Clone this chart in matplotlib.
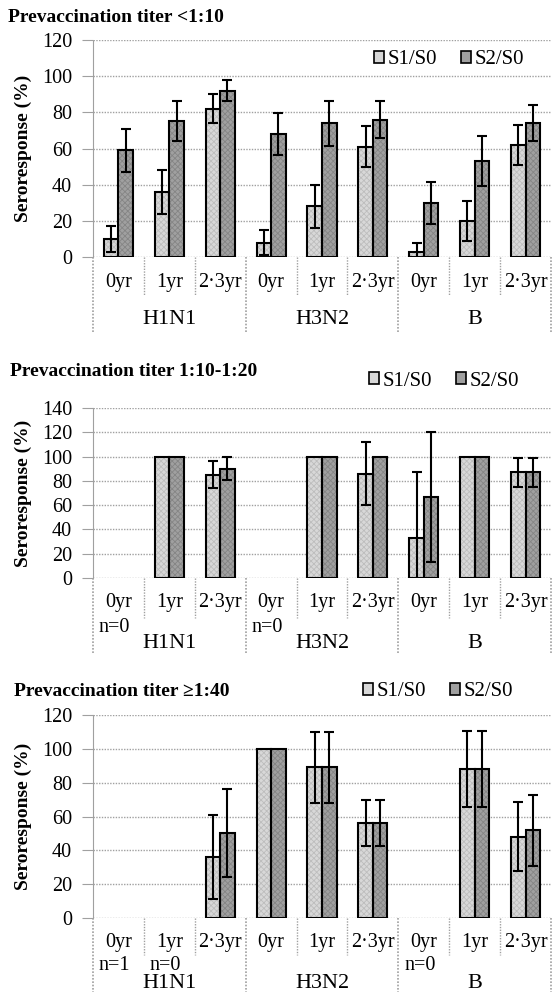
import numpy as np
import matplotlib
matplotlib.use("Agg")
import matplotlib.pyplot as plt
from matplotlib.patches import Patch
from matplotlib.transforms import blended_transform_factory

# Categories and groups
categories = ["0yr", "1yr", "2·3yr"] * 3
groups = ["H1N1", "H3N2", "B"]
series = ["S1/S0", "S2/S0"]
titles = [
    "Prevaccination titer <1:10",
    "Prevaccination titer 1:10-1:20",
    "Prevaccination titer \u22651:40",
]

nan = np.nan

# Prevaccination titer <1:10
low_s1 = [10, 36, 82, 8, 28, 61, 3, 20, 62]
low_s1_err = [7, 12, 8, 7, 12, 11.5, 5, 11, 11]
low_s2 = [59, 75, 92, 68, 74, 76, 30, 53, 74]
low_s2_err = [12, 11, 6, 11.5, 12.5, 10, 11.5, 14, 10]

# Prevaccination titer 1:10-1:20
mid_s1 = [nan, 100, 85, nan, 100, 86, 33, 100, 87]
mid_s1_err = [nan, nan, 11, nan, nan, 26, 54, nan, 12]
mid_s2 = [nan, 100, 90, nan, 100, 100, 67, 100, 87]
mid_s2_err = [nan, nan, 9.5, nan, nan, nan, 53.5, nan, 12]

# Prevaccination titer >=1:40
high_s1 = [nan, nan, 36, 100, 89, 56, nan, 88, 48]
high_s1_err = [nan, nan, 25, nan, 21, 13.5, nan, 22.5, 20.5]
high_s2 = [nan, nan, 50, 100, 89, 56, nan, 88, 52]
high_s2_err = [nan, nan, 26, nan, 21, 13.5, nan, 22.5, 21]

low_notes = {}
mid_notes = {0: "n=0", 3: "n=0"}
high_notes = {0: "n=1", 1: "n=0", 6: "n=0"}

W, H = 552, 992
SERIF = "Liberation Serif"
S1_FACE, S1_HATCH = "#d8d8d8", "#bdbdbd"
S2_FACE, S2_HATCH = "#a0a0a0", "#858585"
GRID = "#a0a0a0"

plt.rcParams["hatch.linewidth"] = 0.6

# pixel layout per panel
panels = [
    dict(data=(low_s1, low_s1_err, low_s2, low_s2_err), notes=low_notes,
         top=40, bottom=257, ymax=120, title=(8, 17), legend=(374, 60),
         cat_y=283, minor_end=295, note_y=None, group_y=320, major_end=333),
    dict(data=(mid_s1, mid_s1_err, mid_s2, mid_s2_err), notes=mid_notes,
         top=408, bottom=578, ymax=140, title=(10, 372), legend=(369, 381),
         cat_y=602, minor_end=618, note_y=628, group_y=643, major_end=653),
    dict(data=(high_s1, high_s1_err, high_s2, high_s2_err), notes=high_notes,
         top=715, bottom=918, ymax=120, title=(14, 691), legend=(363, 692),
         cat_y=943, minor_end=955, note_y=965, group_y=983, major_end=992),
]


def fy(px):
    return 1 - px / H


def draw_series(ax, x, vals, errs, face, hatch_color):
    ax.bar(x, vals, width=bar_w, color=face, edgecolor=hatch_color,
           hatch="xxxxxx", linewidth=0, zorder=2)
    ax.bar(x, vals, width=bar_w, fill=False, edgecolor="black",
           linewidth=1.5, zorder=3)
    ax.errorbar(x, vals, yerr=errs, fmt="none", ecolor="black",
                elinewidth=1.5, capsize=3.8, capthick=1.5, zorder=4)


fig = plt.figure(figsize=(W / 100, H / 100), dpi=100)
x = np.arange(len(categories))
bar_w = 0.285
left_px, right_px = 93, 551

for i, p in enumerate(panels):
    ax = fig.add_axes([left_px / W, fy(p["bottom"]),
                       (right_px - left_px) / W, (p["bottom"] - p["top"]) / H])
    s1, s1_err, s2, s2_err = p["data"]
    draw_series(ax, x - bar_w / 2, s1, s1_err, S1_FACE, S1_HATCH)
    draw_series(ax, x + bar_w / 2, s2, s2_err, S2_FACE, S2_HATCH)

    ax.set_xlim(-0.5, len(categories) - 0.5)
    ax.set_ylim(0, p["ymax"])
    ax.set_yticks(np.arange(0, p["ymax"] + 1, 20))
    ax.set_xticks([])
    ax.grid(axis="y", color=GRID, linestyle=(0, (1, 1)), linewidth=1)
    ax.set_axisbelow(True)
    for side in ["top", "right", "bottom"]:
        ax.spines[side].set_visible(False)
    ax.spines["left"].set_color(GRID)
    ax.spines["left"].set_linestyle((0, (1, 1)))
    ax.tick_params(axis="y", length=8, width=0.8, color=GRID, pad=7,
                   labelsize=14.5)
    for lab in ax.get_yticklabels():
        lab.set_fontfamily(SERIF)

    # category axis below the plot
    tr = blended_transform_factory(ax.transData, fig.transFigure)
    for b in np.arange(-0.5, len(categories), 1.0):
        major = (round(b + 0.5) % 3 == 0)
        end = p["major_end"] if major else p["minor_end"]
        ax.plot([b, b], [fy(p["bottom"]), fy(end)], transform=tr,
                color=GRID, linestyle=(0, (1, 1)), linewidth=1.2 if major else 1,
                clip_on=False)
    for j, c in enumerate(categories):
        ax.text(j, fy(p["cat_y"]), c, transform=tr, ha="center", va="center",
                fontsize=14.5, family=SERIF)
    for j, note in p["notes"].items():
        ax.text(j - 0.08, fy(p["note_y"]), note, transform=tr, ha="center",
                va="center", fontsize=14.5, family=SERIF)
    for g, name in enumerate(groups):
        ax.text(3 * g + 1, fy(p["group_y"]), name, transform=tr, ha="center",
                va="center", fontsize=16, family=SERIF)

    # title, y label, legend
    fig.text(p["title"][0] / W, fy(p["title"][1]), titles[i], ha="left",
             va="center", fontsize=14, family=SERIF, weight="bold")
    fig.text(23 / W, fy((p["top"] + p["bottom"]) / 2), "Seroresponse (%)",
             rotation=90, ha="center", va="center", fontsize=14, family=SERIF,
             weight="bold")
    handles = [
        Patch(facecolor=S1_FACE, edgecolor="black", linewidth=1.2),
        Patch(facecolor=S2_FACE, edgecolor="black", linewidth=1.2),
    ]
    fig.legend(handles, series, loc="center left",
               bbox_to_anchor=(p["legend"][0] / W, fy(p["legend"][1])),
               ncol=2, frameon=False, borderpad=0, borderaxespad=0,
               handlelength=0.5, handleheight=0.5, handletextpad=0.15,
               columnspacing=1.15, prop={"family": SERIF, "size": 15})

fig.savefig("out.png", dpi=100)
